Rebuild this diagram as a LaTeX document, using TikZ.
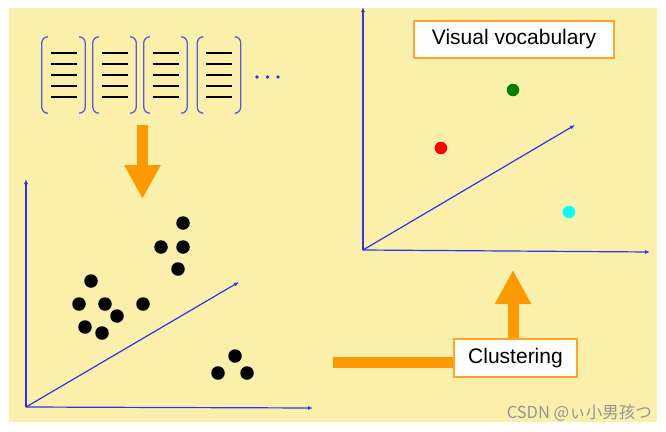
\documentclass[tikz,border=0pt]{standalone}
\usepackage{fontspec}
\setmainfont{Liberation Sans}
\newfontfamily\cjkfont{Noto Sans CJK SC}
\usetikzlibrary{arrows.meta}
\definecolor{bgyellow}{RGB}{251,239,172}
\definecolor{arroworange}{RGB}{255,153,0}
\definecolor{boxorange}{RGB}{255,165,40}
\definecolor{axisblue}{RGB}{50,50,235}
\definecolor{bracketblue}{RGB}{90,90,215}
\definecolor{wordgreen}{RGB}{0,128,0}
\definecolor{wordred}{RGB}{255,0,0}
\definecolor{wordcyan}{RGB}{0,255,255}

\begin{document}
\begin{tikzpicture}[x=1pt, y=-1pt, >={Latex[length=5pt,width=4pt]},
  dot/.style={circle, fill=black, minimum size=13.5pt, inner sep=0pt},
  word/.style={circle, minimum size=12.5pt, inner sep=0pt},
  labelbox/.style={draw=boxorange, line width=2pt, fill=white,
    font=\fontsize{21}{25}\selectfont, inner sep=0pt},
  axis/.style={draw=axisblue, line width=1.2pt, ->},
  fatarrow/.style={draw=arroworange, fill=arroworange, line width=11pt,
    -{Triangle[width=34pt,length=34pt]}},
  doc/.style={minimum width=43pt, minimum height=76pt, inner sep=0pt}]
  \useasboundingbox (0,0) rectangle (666,431);
  \fill[white] (0,0) rectangle (666,431);
  \fill[bgyellow] (9,8) rectangle (657,422);

  % documents
  \foreach \i/\x in {1/63.5, 2/114.5, 3/165.5, 4/219} {
    \node[doc] (d\i) at (\x,75) {};
    \draw[bracketblue, line width=1.3pt, rounded corners=6pt]
      ([xshift=6pt]d\i.north west) -- (d\i.north west)
      -- (d\i.south west) -- ([xshift=6pt]d\i.south west);
    \draw[bracketblue, line width=1.3pt, rounded corners=6pt]
      ([xshift=-6pt]d\i.north east) -- (d\i.north east)
      -- (d\i.south east) -- ([xshift=-6pt]d\i.south east);
    \foreach \dy in {-22,-11,0,11,22}
      \draw[black, line width=2.2pt] ([xshift=-13pt, yshift=\dy pt]d\i.center)
        -- ([xshift=13pt, yshift=\dy pt]d\i.center);
  }
  \foreach \x in {257,267.5,278} \fill[axisblue] (\x,77) circle (1.8);

  % feature space
  \coordinate (lo) at (26,407);
  \coordinate (ly) at (26,179);
  \coordinate (lx) at (313,408);
  \coordinate (lz) at (239,282);
  \draw[axis] (lo) -- (ly);
  \draw[axis] (lo) -- (lx);
  \draw[axis] (lo) -- (lz);
  \foreach \n/\x/\y in {1/183/223, 2/161/247, 3/183/247, 4/178/269,
      5/91/281, 6/79/304, 7/105/304, 8/143/304, 9/117/316, 10/85/327,
      11/102/333, 12/235/356, 13/218/373, 14/247/373}
    \node[dot] (p\n) at (\x,\y) {};

  % vocabulary space
  \coordinate (ro) at (363,250);
  \coordinate (ry) at (363,7);
  \coordinate (rx) at (650,252);
  \coordinate (rz) at (575,125);
  \draw[axis] (ro) -- (ry);
  \draw[axis] (ro) -- (rx);
  \draw[axis] (ro) -- (rz);
  \node[word, fill=wordgreen] (w1) at (513,90) {};
  \node[word, fill=wordred] (w2) at (441,148) {};
  \node[word, fill=wordcyan] (w3) at (569,212) {};
  \node[labelbox, minimum width=200pt, minimum height=37pt] (vocab)
    at (514,39.5) {Visual vocabulary};

  % arrows
  \coordinate (dtop) at (142.5,125);
  \coordinate (dtip) at (142.5,199);
  \draw[fatarrow] (dtop) -- (dtip);
  \node[labelbox, minimum width=123pt, minimum height=38pt] (clust)
    at (515.5,358) {Clustering};
  \coordinate (hstart) at (333,362);
  \draw[arroworange, line width=11pt] (hstart) -- (hstart -| clust.west);
  \coordinate (utip) at (513,270);
  \draw[fatarrow] (clust.north -| utip) -- (utip);

  \node[text=black!42, font=\cjkfont\fontsize{16.5}{19}\selectfont,
    anchor=east, inner sep=0pt] (mark) at (652,413) {CSDN @ぃ小男孩つ};
\end{tikzpicture}
\end{document}
